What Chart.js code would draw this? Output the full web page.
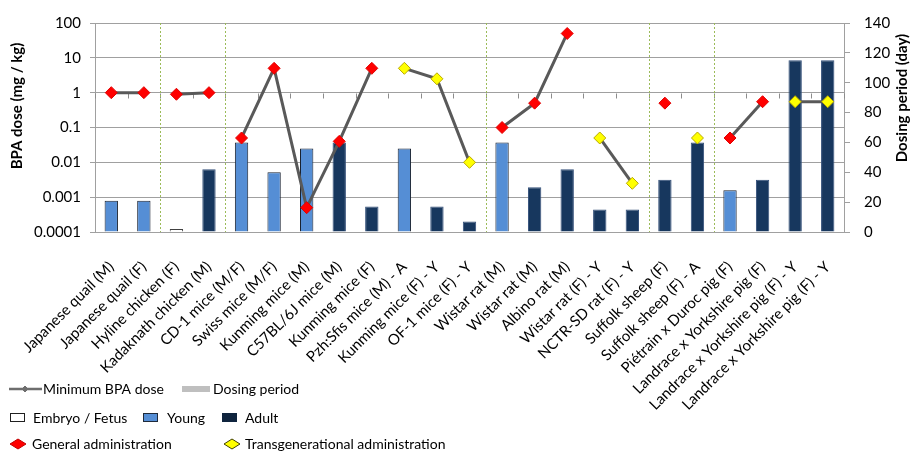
<!DOCTYPE html>
<html><head><meta charset="utf-8">
<script src="https://cdn.jsdelivr.net/npm/chart.js@4"></script>
<style>html,body{margin:0;padding:0;background:#fff}#wrap{width:914px;height:455px;position:relative}</style>
</head><body><div id="wrap"><canvas id="c"></canvas></div>
<script>
const categories = ['Japanese quail (M)','Japanese quail (F)','Hyline chicken (F)','Kadaknath chicken (M)','CD-1 mice (M/F)','Swiss mice (M/F)','Kunming mice (M)','C57BL/6J mice (M)','Kunming mice (F)','Pzh:Sfis mice (M) - A','Kunming mice (F) - Y','OF-1 mice (F) - Y','Wistar rat (M)','Wistar rat (M)','Albino rat (M)','Wistar rat (F) - Y','NCTR-SD rat (F) - Y','Suffolk sheep (F)','Suffolk sheep (F) - A','Piétrain x Duroc pig (F)','Landrace x Yorkshire pig (F)','Landrace x Yorkshire pig (F) - Y','Landrace x Yorkshire pig (F) - Y'];
const dosingPeriodDays = [21,21,2,42,60,40,56,60,17,56,17,7,60,30,42,15,15,35,60,28,35,115,115];
const minBpaDose = [1,1,0.9,1,0.05,5,0.0005,0.04,5,5,2.5,0.01,0.1,0.5,50,0.05,0.0025,0.5,0.05,0.05,0.55,0.55,0.55];
const ageGroup = ['Young','Young','Embryo','Adult','Young','Young','Young','Adult','Adult','Young','Adult','Adult','Young','Adult','Adult','Adult','Adult','Adult','Adult','Young','Adult','Adult','Adult'];
const administration = ['G','G','G','G','G','G','G','G','G','T','T','T','G','G','G','T','T','G','T','G','G','T','T'];
const lineGroup = [1,1,2,2,3,3,3,3,3,4,4,4,5,5,5,6,6,7,8,9,9,10,10];
const separatorsAfter = [1,3,11,16,18];
const doseTicks = [0.0001,0.001,0.01,0.1,1,10,100];
const dayTicks = [0,20,40,60,80,100,120,140];

const FONT = 'Lato, "Open Sans", sans-serif';
const ageFill = {Embryo:'#FFFFFF', Young:'#558ED5', Adult:'#17375E'};
const ageBorder = {Embryo:'#404040', Young:'#1A2230', Adult:'#34507A'};
const adminFill = {G:'#FF0000', T:'#FFFF00'};
const adminBorder = {G:'#E00000', T:'#B8A800'};

function diamond(ctx,cx,cy,hw,hh,fill,stroke){
  ctx.beginPath();ctx.moveTo(cx-hw,cy);ctx.lineTo(cx,cy-hh);ctx.lineTo(cx+hw,cy);ctx.lineTo(cx,cy+hh);ctx.closePath();
  ctx.fillStyle=fill;ctx.fill();ctx.lineWidth=1;ctx.strokeStyle=stroke;ctx.stroke();
}

const extras = {
  id:'extras',
  beforeDatasetsDraw(chart){
    const {ctx, scales:{x,y}} = chart;
    const half = (x.getPixelForValue(1)-x.getPixelForValue(0))/2;
    ctx.save();
    const y1 = Math.round(y.getPixelForValue(1))+0.5;
    ctx.strokeStyle='#8C8C8C';ctx.lineWidth=1;
    for(let i=0;i<=categories.length;i++){
      const px=Math.round(x.getPixelForValue(i)-half)+0.5;
      ctx.beginPath();ctx.moveTo(px,y1);ctx.lineTo(px,y1+5);ctx.stroke();
    }
    ctx.strokeStyle='#9BBB59';ctx.setLineDash([2,2]);
    separatorsAfter.forEach(i=>{
      const px=Math.round(x.getPixelForValue(i)+half)+0.5;
      ctx.beginPath();ctx.moveTo(px,chart.chartArea.top);ctx.lineTo(px,chart.chartArea.bottom);ctx.stroke();
    });
    ctx.restore();
  },
  afterDraw(chart){
    const ctx=chart.ctx;
    ctx.save();
    ctx.fillStyle='#000';
    ctx.font='bold 15px '+FONT;ctx.textAlign='center';ctx.textBaseline='middle';
    ctx.save();ctx.translate(17,106);ctx.rotate(-Math.PI/2);ctx.fillText('BPA dose (mg / kg)',0,0);ctx.restore();
    ctx.save();ctx.translate(902,98);ctx.rotate(-Math.PI/2);ctx.fillText('Dosing period (day)',0,0);ctx.restore();
    // legend
    ctx.font='14px '+FONT;ctx.textAlign='left';ctx.textBaseline='middle';
    let r1=389, r2=418, r3=444;
    ctx.strokeStyle='#6E6E6E';ctx.lineWidth=2.5;ctx.beginPath();ctx.moveTo(9,r1);ctx.lineTo(42,r1);ctx.stroke();
    diamond(ctx,25,r1,3,3,'#6E6E6E','#6E6E6E');
    ctx.fillStyle='#000';ctx.fillText('Minimum BPA dose',43,r1);
    ctx.fillStyle='#BFBFBF';ctx.fillRect(182,r1-3,28,6);
    ctx.fillStyle='#000';ctx.fillText('Dosing period',213,r1);
    const box=(x,fill,stroke)=>{ctx.fillStyle=fill;ctx.fillRect(x+0.5,r2-4.5,14,8);ctx.strokeStyle=stroke;ctx.lineWidth=1;ctx.strokeRect(x+0.5,r2-4.5,14,8);};
    box(10,'#FFFFFF','#202020');ctx.fillStyle='#000';ctx.fillText('Embryo / Fetus',33,r2);
    box(143,'#558ED5','#1F2A3A');ctx.fillStyle='#000';ctx.fillText('Young',167,r2);
    box(222,'#0F243E','#0F243E');ctx.fillStyle='#000';ctx.fillText('Adult',245,r2);
    diamond(ctx,18,r3,8,5,'#FF0000','#C00000');ctx.fillStyle='#000';ctx.fillText('General administration',32,r3);
    diamond(ctx,232,r3,8,5,'#FFFF00','#404000');ctx.fillStyle='#000';ctx.fillText('Transgenerational administration',245,r3);
    ctx.restore();
  }
};

new Chart(document.getElementById('c'), {
  data:{
    labels:categories,
    datasets:[
      {type:'line',label:'Minimum BPA dose',data:minBpaDose,yAxisID:'y',order:0,
       borderColor:'#595959',borderWidth:3,tension:0,
       pointStyle:'rectRot',pointRadius:6,pointHoverRadius:6,pointBorderWidth:1,
       pointBackgroundColor:administration.map(a=>adminFill[a]),
       pointBorderColor:administration.map(a=>adminBorder[a]),
       segment:{borderColor:c=>lineGroup[c.p0DataIndex]===lineGroup[c.p1DataIndex]?'#595959':'rgba(0,0,0,0)'}},
      {type:'bar',label:'Dosing period',data:dosingPeriodDays,yAxisID:'y2',order:1,
       backgroundColor:ageGroup.map(a=>ageFill[a]),borderColor:ageGroup.map(a=>ageBorder[a]),borderWidth:1,
       barPercentage:0.41,categoryPercentage:1}
    ]
  },
  options:{
    responsive:true,maintainAspectRatio:false,animation:false,
    layout:{padding:{top:13,left:0,right:0,bottom:0}},
    plugins:{legend:{display:false},tooltip:{enabled:false}},
    scales:{
      x:{type:'category',offset:true,grid:{display:false},border:{display:false},
         ticks:{autoSkip:false,minRotation:45,maxRotation:45,padding:18,color:'#000',font:{family:FONT,size:15}},
         afterFit(s){s.height=223;}},
      y:{type:'logarithmic',position:'left',min:0.0001,max:100,
         afterBuildTicks(s){s.ticks=doseTicks.map(v=>({value:v}));},
         ticks:{padding:9,color:'#000',font:{family:FONT,size:15},callback:v=>v>=1?String(v):v.toFixed(Math.round(-Math.log10(v)))},
         grid:{color:'#A0A0A0',tickLength:5},border:{color:'#A0A0A0'},
         afterFit(s){s.width=95;}},
      y2:{type:'linear',position:'right',min:0,max:140,
         afterBuildTicks(s){s.ticks=dayTicks.map(v=>({value:v}));},
         ticks:{padding:14,color:'#000',font:{family:FONT,size:15}},
         grid:{drawOnChartArea:false,color:'#A0A0A0',tickLength:6},border:{color:'#A0A0A0'},
         afterFit(s){s.width=70;}}
    }
  },
  plugins:[extras]
});
</script></body></html>
